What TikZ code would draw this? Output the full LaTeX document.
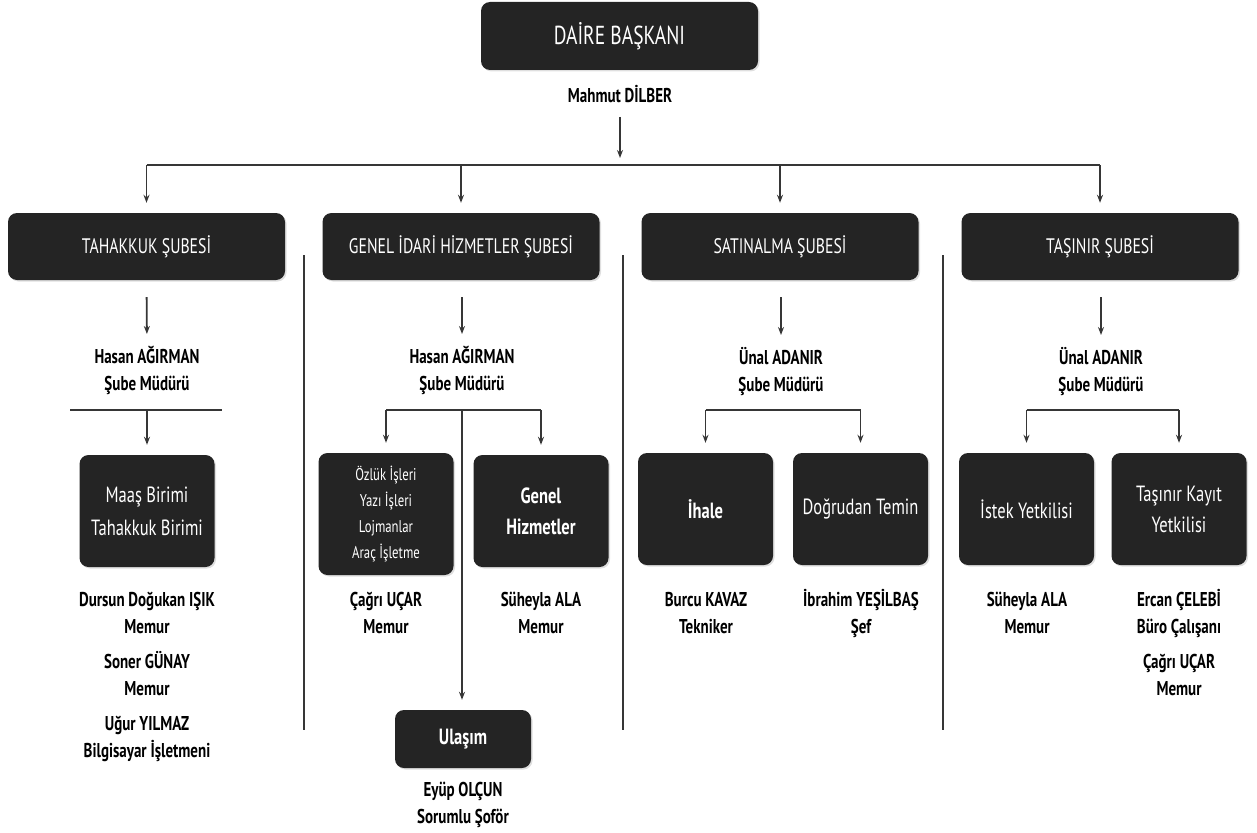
\documentclass[tikz,border=0pt]{standalone}
\usepackage{fontspec}
\setmainfont{PT Sans}[FakeStretch=0.75]
\usetikzlibrary{arrows.meta,shadows}
\definecolor{kutugri}{HTML}{242424}
\definecolor{cizgigri}{HTML}{363636}
\tikzset{
  kutu/.style={fill=kutugri, rounded corners=9pt, text=white, align=center, inner sep=2pt,
    drop shadow={opacity=0.25, shadow xshift=1.5pt, shadow yshift=-1.5pt}},
  sube/.style={kutu, minimum width=277pt, minimum height=67pt, font=\fontsize{21}{25}\selectfont},
  birim/.style={kutu, minimum width=135pt, minimum height=112pt, font=\fontsize{22}{33}\selectfont},
  isim/.style={align=center, inner sep=0pt, anchor=north, font=\bfseries\fontsize{20}{27}\selectfont},
  cizgi/.style={draw=cizgigri, line width=1.8pt},
  ok/.style={cizgi, shorten >=10pt, -{Stealth[length=8pt,width=6pt]}},
}

\begin{document}
\begin{tikzpicture}[x=1pt,y=-1pt]
    \useasboundingbox (0,0) rectangle (1257,832);

    % ust kisim
    \node[kutu, minimum width=277pt, minimum height=68pt, font=\fontsize{26}{30}\selectfont] (baskan) at (619.5,36) {DAİRE BAŞKANI};
    \node[isim] (dilber) at (620,85) {Mahmut DİLBER};
    \coordinate (bus) at (620,165);
    \draw[ok, shorten <=14pt, shorten >=7pt] (dilber.south) -- (bus);

    % subeler
    \node[sube] (tahakkuk) at (146.5,246.5) {TAHAKKUK ŞUBESİ};
    \node[sube] (genel) at (461,246.5) {GENEL İDARİ HİZMETLER ŞUBESİ};
    \node[sube] (satin) at (780,246.5) {SATINALMA ŞUBESİ};
    \node[sube] (tasinir) at (1100,246.5) {TAŞINIR ŞUBESİ};

    \draw[cizgi] (bus -| tahakkuk) -- (bus -| tasinir);
    \foreach \s in {tahakkuk,genel,satin,tasinir}
        \draw[ok] (bus -| \s) -- (\s.north);

    % ayirici cizgiler
    \coordinate (ay1u) at (304,255);  \coordinate (ay1a) at (304,730);
    \coordinate (ay2u) at (623,255);  \coordinate (ay2a) at (623,730);
    \coordinate (ay3u) at (943,255);  \coordinate (ay3a) at (943,730);
    \draw[cizgi] (ay1u) -- (ay1a);
    \draw[cizgi] (ay2u) -- (ay2a);
    \draw[cizgi] (ay3u) -- (ay3a);

    % sube mudurleri
    \node[isim] (mudur1) at (147,346) {Hasan AĞIRMAN\\Şube Müdürü};
    \node[isim] (mudur2) at (462,346) {Hasan AĞIRMAN\\Şube Müdürü};
    \node[isim] (mudur3) at (781,347) {Ünal ADANIR\\Şube Müdürü};
    \node[isim] (mudur4) at (1101,347) {Ünal ADANIR\\Şube Müdürü};
    \draw[ok, shorten <=17pt, shorten >=12pt] (tahakkuk.south) -- (mudur1.north);
    \draw[ok, shorten <=17pt, shorten >=12pt] (genel.south -| mudur2) -- (mudur2.north);
    \draw[ok, shorten <=17pt, shorten >=12pt] (satin.south -| mudur3) -- (mudur3.north);
    \draw[ok, shorten <=17pt, shorten >=12pt] (tasinir.south -| mudur4) -- (mudur4.north);

    % birimler
    \node[birim] (maas) at (147,511) {Maaş Birimi\\Tahakkuk Birimi};
    \node[birim, minimum height=122pt, font=\fontsize{17}{26}\selectfont] (ozluk) at (386,514) {Özlük İşleri\\Yazı İşleri\\Lojmanlar\\Araç İşletme};
    \node[birim, font=\bfseries\fontsize{22}{31}\selectfont] (gh) at (541,511) {Genel\\Hizmetler};
    \node[birim, font=\bfseries\fontsize{22}{31}\selectfont] (ihale) at (705.5,509) {İhale};
    \node[birim] (dogrudan) at (860.5,509) {Doğrudan Temin};
    \node[birim] (istek) at (1026.5,509) {İstek Yetkilisi};
    \node[birim, font=\fontsize{22}{31}\selectfont] (kayit) at (1179,509) {Taşınır Kayıt\\Yetkilisi};
    \node[kutu, minimum width=136pt, minimum height=58pt, font=\bfseries\fontsize{22}{26}\selectfont] (ulasim) at (463,739) {Ulaşım};

    % baglantilar
    \coordinate (tbar) at (147,410);
    \coordinate (tsol) at (70,410);
    \coordinate (tsag) at (222,410);
    \draw[cizgi] (tsol) -- (tsag);
    \draw[ok] (tbar -| maas) -- (maas.north);

    \coordinate (gbar) at (462,410);
    \draw[cizgi] (gbar -| ozluk) -- (gbar -| gh);
    \draw[ok] (gbar -| ozluk) -- (ozluk.north);
    \draw[ok] (gbar -| gh) -- (gh.north);
    \draw[ok] (gbar) -- (gbar |- ulasim.north);

    \coordinate (sbar) at (781,410);
    \draw[cizgi] (sbar -| ihale) -- (sbar -| dogrudan);
    \draw[ok] (sbar -| ihale) -- (ihale.north);
    \draw[ok] (sbar -| dogrudan) -- (dogrudan.north);

    \coordinate (kbar) at (1101,410);
    \draw[cizgi] (kbar -| istek) -- (kbar -| kayit);
    \draw[ok] (kbar -| istek) -- (istek.north);
    \draw[ok] (kbar -| kayit) -- (kayit.north);

    % personel
    \node[isim] (dursun) at (147,592) {Dursun Doğukan IŞIK\\Memur\\[8pt]Soner GÜNAY\\Memur\\[8pt]Uğur YILMAZ\\Bilgisayar İşletmeni};
    \node[isim] (cagri) at (386,592) {Çağrı UÇAR\\Memur};
    \node[isim] (suheyla1) at (541,592) {Süheyla ALA\\Memur};
    \node[isim] (eyup) at (463,782) {Eyüp OLÇUN\\Sorumlu Şoför};
    \node[isim] (burcu) at (706,592) {Burcu KAVAZ\\Tekniker};
    \node[isim] (ibrahim) at (861,589) {İbrahim YEŞİLBAŞ\\Şef};
    \node[isim] (suheyla2) at (1027,592) {Süheyla ALA\\Memur};
    \node[isim] (ercan) at (1179,589) {Ercan ÇELEBİ\\Büro Çalışanı\\[8pt]Çağrı UÇAR\\Memur};
\end{tikzpicture}
\end{document}
